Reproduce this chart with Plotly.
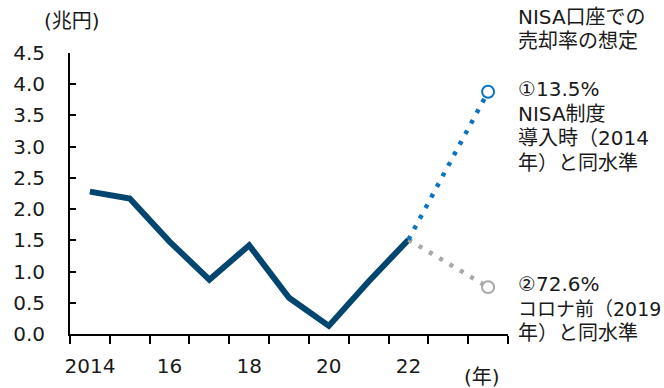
import plotly.graph_objects as go

# Annual net selling amount (trillion yen)
years = [2014, 2015, 2016, 2017, 2018, 2019, 2020, 2021, 2022]
actual = [2.28, 2.17, 1.48, 0.87, 1.42, 0.58, 0.13, 0.84, 1.51]

# Projection to 2024 under two selling-rate assumptions
proj_years = [2022, 2024]
case1 = [1.51, 3.88]   # ①13.5%
case2 = [1.51, 0.75]   # ②72.6%

x_min, x_max = 2014, 2024
tick_years = [2014, 2016, 2018, 2020, 2022]
tick_text = ["2014", "16", "18", "20", "22"]
y_ticks = [0.0, 0.5, 1.0, 1.5, 2.0, 2.5, 3.0, 3.5, 4.0, 4.5]

NAVY = "#00466e"
BLUE = "#0a73c4"
GRAY = "#a8a8a8"
TXT = "#1a1a1a"
FONT = "DejaVu Sans, Noto Sans CJK JP, sans-serif"

W, H = 664, 388
L, R, T, B = 70, 508, 53, 334  # plot area in pixels


def px(xp):
    return (xp - L) / (R - L)


def py(yp):
    return (B - yp) / (B - T)


fig = go.Figure()
fig.add_trace(go.Scatter(x=years, y=actual, mode="lines",
                         line=dict(color=NAVY, width=6), showlegend=False))
fig.add_trace(go.Scatter(x=proj_years, y=case2, mode="lines",
                         line=dict(color=GRAY, width=4.5, dash="4px,8px"),
                         showlegend=False))
fig.add_trace(go.Scatter(x=proj_years, y=case1, mode="lines",
                         line=dict(color=BLUE, width=4.5, dash="4px,8px"),
                         showlegend=False))
fig.add_trace(go.Scatter(x=[proj_years[-1]], y=[case2[-1]], mode="markers",
                         marker=dict(size=12, color="white",
                                     line=dict(color=GRAY, width=2)),
                         showlegend=False, cliponaxis=False))
fig.add_trace(go.Scatter(x=[proj_years[-1]], y=[case1[-1]], mode="markers",
                         marker=dict(size=12, color="white",
                                     line=dict(color=BLUE, width=2)),
                         showlegend=False, cliponaxis=False))

boundaries = [y - 0.5 for y in range(x_min, x_max + 1)] + [x_max + 0.5]

fig.update_xaxes(
    range=[x_min - 0.5, x_max + 0.5], automargin=False,
    tickmode="array", tickvals=tick_years, ticktext=tick_text,
    ticks="", showgrid=False, zeroline=False,
    showline=True, linecolor="black", linewidth=2,
    ticklabelstandoff=13,
    tickfont=dict(family=FONT, size=20, color=TXT),
    minor=dict(tickmode="array", tickvals=boundaries, ticks="outside",
               ticklen=8, tickwidth=2, tickcolor="black", showgrid=False),
)
fig.update_yaxes(
    range=[0, 4.5], automargin=False,
    tickmode="array", tickvals=y_ticks,
    ticktext=[f"{v:.1f}" for v in y_ticks],
    ticks="inside", ticklen=6, tickwidth=2, tickcolor="black",
    showgrid=False, zeroline=False,
    showline=True, linecolor="black", linewidth=2,
    ticklabelstandoff=19,
    tickfont=dict(family=FONT, size=20, color=TXT),
)

annotations = []


def add_text(text, x, y, xanchor="left", size=20):
    annotations.append(dict(
        text=text, x=px(x), y=py(y), xref="paper", yref="paper",
        xanchor=xanchor, yanchor="middle", showarrow=False,
        font=dict(family=FONT, size=size, color=TXT)))


add_text("(兆円)", 42, 21)
add_text("(年)", 482, 377, xanchor="center")

add_text("NISA口座での", 516, 17)
add_text("売却率の想定", 516, 41)

for i, line in enumerate(["①13.5%", "NISA制度", "導入時（2014", "年）と同水準"]):
    add_text(line, 516, 89 + 24.5 * i)

add_text("②72.6%", 516, 284)
add_text("コロナ前（2019", 516, 308.5, size=19)
add_text("年）と同水準", 516, 333)

fig.update_layout(
    width=W, height=H,
    margin=dict(l=L, r=W - R, t=T, b=H - B),
    plot_bgcolor="white", paper_bgcolor="white",
    annotations=annotations,
    font=dict(family=FONT, color=TXT),
)

fig.write_html("out.html")
